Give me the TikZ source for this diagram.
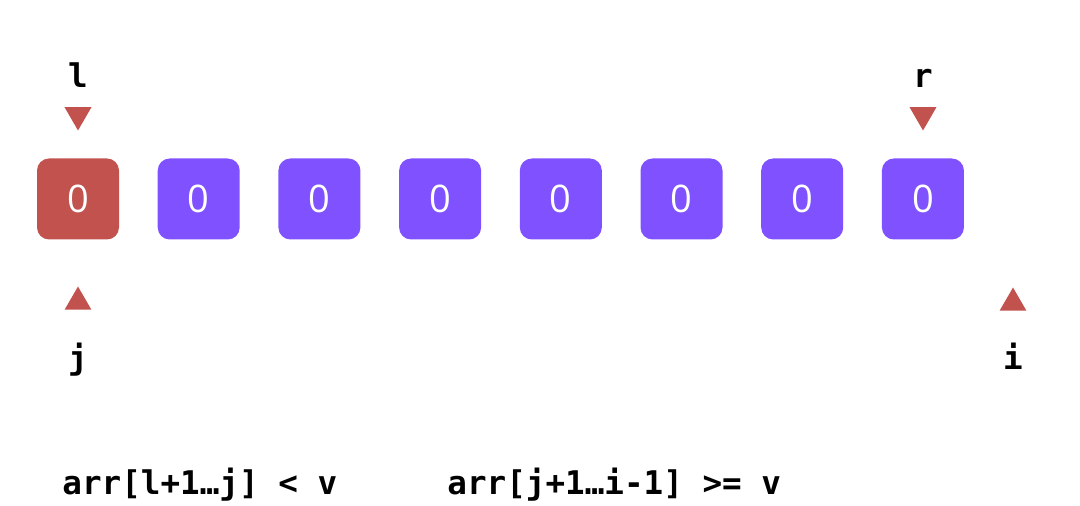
\documentclass[tikz,border=0pt]{standalone}
\usepackage{fontspec}
\setmainfont{Open Sans}
\setmonofont{DejaVu Sans Mono}
\usetikzlibrary{shapes.geometric}
\definecolor{cellpurple}{RGB}{128,82,255}
\definecolor{cellred}{RGB}{193,82,78}

\begin{document}
\begin{tikzpicture}[x=0.5pt,y=-0.5pt,
  cell/.style={fill=cellpurple,rounded corners=6pt,minimum width=41pt,minimum height=40.5pt,inner sep=0pt,text=white,font=\fontsize{19}{19}\selectfont},
  ptrdown/.style={regular polygon,regular polygon sides=3,shape border rotate=180,fill=cellred,minimum size=15.5pt,inner sep=0pt},
  ptrup/.style={regular polygon,regular polygon sides=3,fill=cellred,minimum size=15.5pt,inner sep=0pt},
  lbl/.style={font=\ttfamily\bfseries\fontsize{16.3}{16.3}\selectfont,inner sep=0pt}]
\useasboundingbox (0,0) rectangle (1080,506);
\node[cell,fill=cellred] (c0) at (78,199) {0};
\foreach \k in {1,...,7}
  \node[cell] (c\k) at ({78+120.7*\k},199) {0};
\node[ptrdown] (pl) at (78,115) {};
\node[ptrdown] (pr) at (923,115) {};
\node[ptrup] (pj) at (78,302) {};
\node[ptrup] (pi) at (1013,303) {};
\node[lbl,anchor=base] (l) at (78,88) {l};
\node[lbl,anchor=base] (r) at (923,88) {r};
\node[lbl,anchor=base] (j) at (78,370) {j};
\node[lbl,anchor=base] (i) at (1013,370) {i};
\node[lbl,anchor=base west] (lt) at (62,495) {arr[l+1…j] < v};
\node[lbl,anchor=base west] (ge) at (447,495) {arr[j+1…i-1] >= v};
\end{tikzpicture}
\end{document}
